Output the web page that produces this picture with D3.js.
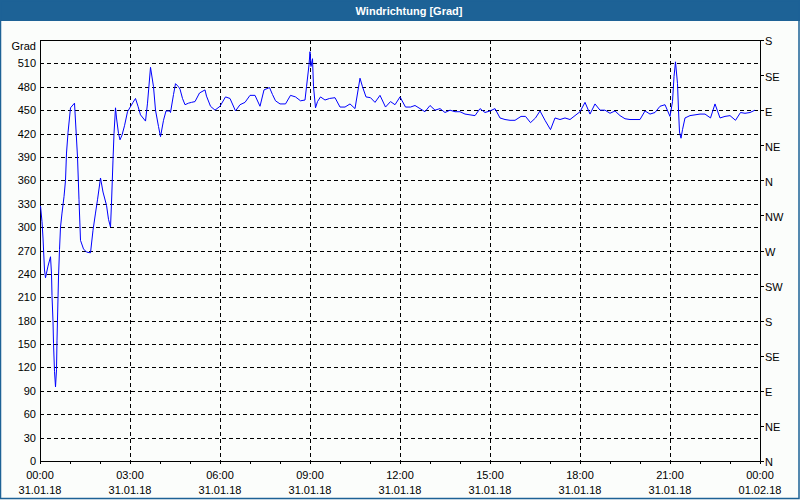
<!DOCTYPE html>
<html>
<head>
<meta charset="utf-8">
<script src="https://cdn.jsdelivr.net/npm/d3@7"></script>
<style>
  html, body { margin: 0; padding: 0; background: #fbfdfb; }
  svg { display: block; }
  text { font-family: "Liberation Sans", Arial, sans-serif; font-size: 11px; fill: #000; }
</style>
</head>
<body>
<svg id="chart" width="800" height="500"></svg>
<script>
// ---- data ----
const title = "Windrichtung [Grad]";
const yUnit = "Grad";
// minutes since 31.01.18 00:00
const minutes = [1,4,6,9,11,13,16,21,23,24,26,27,29,31,33,34,37,39,41,44,48,51,53,56,61,69,75,78,81,87,93,101,106,111,115,121,126,133,137,141,143,146,148,151,153,157,160,164,169,175,186,191,196,201,211,215,221,227,231,237,241,247,252,259,261,267,271,277,280,285,290,297,303,310,319,330,333,341,350,360,371,380,391,400,410,420,430,440,448,459,465,471,480,491,501,511,521,530,533,538,540,542,545,547,551,555,561,570,579,590,600,610,620,630,640,645,652,661,670,680,691,701,710,720,731,741,750,760,770,780,790,800,810,820,830,840,850,860,870,880,890,900,910,920,930,940,950,962,971,981,991,1000,1010,1021,1030,1040,1050,1060,1070,1080,1090,1100,1110,1120,1130,1140,1150,1160,1170,1180,1190,1200,1210,1220,1230,1240,1250,1260,1265,1268,1271,1275,1277,1279,1282,1285,1290,1300,1310,1320,1330,1341,1350,1360,1370,1380,1391,1401,1410,1420,1430];
const degrees = [327,307,286,245,235,241,250,262,240,212,179,151,115,95,117,155,236,271,300,318,339,360,395,421,453,459,390,335,283,272,268,267,296,318,335,363,345,328,310,300,331,386,420,453,440,420,412,418,430,448,460,465,455,444,436,459,505,480,450,429,416,437,449,449,447,470,484,480,477,465,457,459,460,461,472,476,468,455,450,455,467,465,449,457,460,469,469,455,476,479,470,462,458,458,469,467,462,463,480,508,525,506,516,480,453,461,467,463,465,466,454,454,458,452,491,480,467,466,460,469,454,461,457,467,454,454,456,452,448,456,450,452,447,450,448,448,445,444,443,452,447,449,452,440,438,437,437,442,442,434,440,449,437,425,440,438,440,438,443,448,460,445,458,450,450,446,449,443,439,438,438,438,449,445,447,455,457,442,461,493,512,484,450,422,414,425,440,443,444,445,445,440,458,440,442,443,437,447,446,447,450];
const yTicks = [0,30,60,90,120,150,180,210,240,270,300,330,360,390,420,450,480,510];
const compassTicks = [0,45,90,135,180,225,270,315,360,405,450,495,540];
const compassLabels = ["N","NE","E","SE","S","SW","W","NW","N","NE","E","SE","S"];
const xTicks = [0,180,360,540,720,900,1080,1260,1440];
const xTimeLabels = ["00:00","03:00","06:00","09:00","12:00","15:00","18:00","21:00","00:00"];
const xDateLabels = ["31.01.18","31.01.18","31.01.18","31.01.18","31.01.18","31.01.18","31.01.18","31.01.18","01.02.18"];
const hourTicks = d3.range(0, 1441, 60);

// ---- layout ----
const svg = d3.select("#chart");
const W = 800, H = 500;
const L = 40, R = 760, T = 40, B = 461;
const x = d3.scaleLinear().domain([0, 1440]).range([L, R]);
const y = d3.scaleLinear().domain([0, 540]).range([B, T]);
const blue = "#1d6296";

svg.append("rect").attr("x", 0).attr("y", 0).attr("width", W).attr("height", H).attr("fill", "#fbfdfb");
// title bar
svg.append("rect").attr("x", 0).attr("y", 0).attr("width", W).attr("height", 21).attr("fill", blue);
svg.append("text").attr("x", 409).attr("y", 14.5).attr("text-anchor", "middle")
  .style("font-weight", "bold").style("fill", "#fff").text(title);
// window border
svg.append("rect").attr("x", 0.5).attr("y", 0.5).attr("width", W - 1.5).attr("height", H - 2)
  .attr("fill", "none").attr("stroke", blue).attr("stroke-width", 1.5);

// grid
const grid = svg.append("g").attr("stroke", "#000").attr("stroke-dasharray", "4,3").attr("shape-rendering", "crispEdges");
grid.selectAll("line.h").data(yTicks.filter(v => v > 0)).enter().append("line")
  .attr("x1", L).attr("x2", R).attr("y1", d => Math.round(y(d)) + 0.5).attr("y2", d => Math.round(y(d)) + 0.5);
grid.selectAll("line.v").data(xTicks.filter(v => v > 0 && v < 1440)).enter().append("line")
  .attr("y1", T).attr("y2", B).attr("x1", d => Math.round(x(d)) + 0.5).attr("x2", d => Math.round(x(d)) + 0.5);

// left axis labels
const yAxis = d3.axisLeft(y).tickValues(yTicks).tickSize(0).tickPadding(4);
const ga = svg.append("g").attr("transform", `translate(${L},0)`).call(yAxis);
ga.select(".domain").remove();
ga.selectAll("text").style("font-family", "Liberation Sans, Arial, sans-serif").style("font-size", "11px").attr("fill", "#000");
svg.append("text").attr("x", 36).attr("y", 50).attr("text-anchor", "end").text(yUnit);

// right compass axis
const rAxis = d3.axisRight(y).tickValues(compassTicks).tickSize(4).tickPadding(1)
  .tickFormat((d, i) => compassLabels[i]);
const gr = svg.append("g").attr("transform", `translate(${R},0)`).call(rAxis);
gr.select(".domain").remove();
gr.selectAll("line").attr("stroke", "#000").attr("shape-rendering", "crispEdges");
gr.selectAll("text").style("font-family", "Liberation Sans, Arial, sans-serif").style("font-size", "11px").attr("fill", "#000").attr("dy", "0.45em");

// bottom hour ticks
svg.append("g").attr("stroke", "#000").attr("shape-rendering", "crispEdges")
  .selectAll("line").data(hourTicks).enter().append("line")
  .attr("x1", d => Math.round(x(d)) + 0.5).attr("x2", d => Math.round(x(d)) + 0.5)
  .attr("y1", B).attr("y2", B + 3);

// bottom labels
const xl = svg.append("g").selectAll("g").data(xTicks).enter().append("g");
xl.append("text").attr("x", d => x(d)).attr("y", 479).attr("text-anchor", "middle").text((d, i) => xTimeLabels[i]);
xl.append("text").attr("x", d => x(d)).attr("y", 494).attr("text-anchor", "middle").text((d, i) => xDateLabels[i]);

// plot frame
svg.append("rect").attr("x", L + 0.5).attr("y", T + 0.5).attr("width", R - L).attr("height", B - T)
  .attr("fill", "none").attr("stroke", "#000").attr("shape-rendering", "crispEdges");

// data line
const pts = minutes.map((m, i) => [m, degrees[i]]);
svg.append("path").datum(pts)
  .attr("fill", "none").attr("stroke", "#0000ff").attr("stroke-width", 1)
  .attr("d", d3.line().x(d => x(d[0])).y(d => y(d[1])));
</script>
</body>
</html>
